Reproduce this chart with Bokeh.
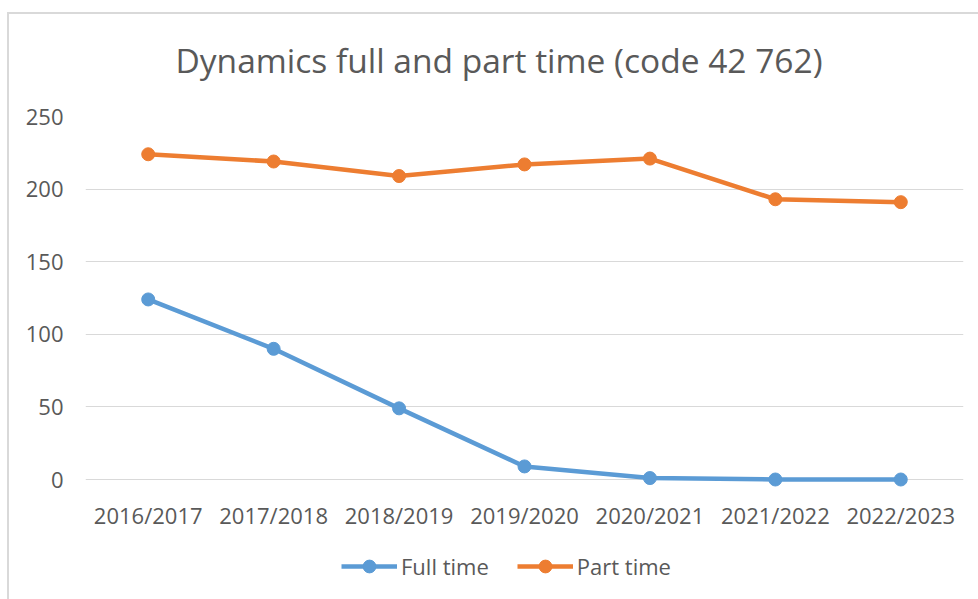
from bokeh.plotting import figure
from bokeh.models import FactorRange, Range1d, FixedTicker, Legend, LegendItem, Title
from bokeh.core.properties import value
from bokeh.embed import file_html
from bokeh.resources import INLINE

categories = ["2016/2017", "2017/2018", "2018/2019", "2019/2020", "2020/2021", "2021/2022", "2022/2023"]
full_time = [124, 90, 49, 9, 1, 0, 0]
part_time = [224, 219, 209, 217, 221, 193, 191]
y_ticks = [0, 50, 100, 150, 200, 250]

FONT = "Open Sans"
GRAY = "#595959"
BLUE = "#5B9BD5"
ORANGE = "#ED7D31"

# plot area: values 0..250 over 363 px; the frame extends 120 px further down
# so that category labels and legend can live inside it
PLOT_H = 363
EXTRA_H = 120
y_max = y_ticks[-1]
y_min = -y_max * EXTRA_H / PLOT_H
label_y = -y_max * 35 / PLOT_H

p = figure(frame_width=878, frame_height=PLOT_H + EXTRA_H,
           x_range=FactorRange(*categories, range_padding=0),
           y_range=Range1d(y_min, y_max), output_backend="svg", toolbar_location=None,
           min_border_left=85, min_border_right=15, min_border_top=116, min_border_bottom=0)
p.outline_line_color = None
p.background_fill_color = "white"
p.border_fill_color = None
# light chart-area border (left and top edges), drawn as the element background
p.styles = {
    "background": "linear-gradient(#D9D9D9, #D9D9D9) 7px 12px / 971px 2px no-repeat, "
                  "linear-gradient(#D9D9D9, #D9D9D9) 7px 12px / 2px 587px no-repeat, white"
}

t = Title(text="Dynamics full and part time (code 42 762)", align="left", offset=90,
          text_font=FONT, text_font_size="33.5px", text_font_style="normal",
          text_color=GRAY, standoff=68)
p.add_layout(t, "above")

r1l = p.line(categories, full_time, line_color=BLUE, line_width=4.5)
r1c = p.scatter(categories, full_time, size=13, fill_color=BLUE, line_color=BLUE)
r2l = p.line(categories, part_time, line_color=ORANGE, line_width=4.5)
r2c = p.scatter(categories, part_time, size=13, fill_color=ORANGE, line_color=ORANGE)

# category labels (x axis hidden; labels placed below the zero line)
p.text(x=categories, y=[label_y] * len(categories), text=categories,
       text_font=value(FONT), text_font_size="22px", text_color=GRAY,
       text_align="center", text_baseline="middle")
p.xaxis.visible = False

p.yaxis.ticker = FixedTicker(ticks=y_ticks)
ax = p.yaxis[0]
ax.axis_line_color = None
ax.major_tick_line_color = None
ax.minor_tick_line_color = None
ax.major_label_text_font = FONT
ax.major_label_text_font_size = "22px"
ax.major_label_text_color = GRAY
p.yaxis.major_label_standoff = 16

p.xgrid.grid_line_color = None
p.ygrid.grid_line_color = "#D9D9D9"
p.ygrid.grid_line_width = 1.2
p.ygrid.ticker = FixedTicker(ticks=y_ticks)

legend = Legend(items=[LegendItem(label="Full time", renderers=[r1l, r1c]),
                       LegendItem(label="Part time", renderers=[r2l, r2c])],
                orientation="horizontal", location=(256, 17),
                label_text_font=FONT, label_text_font_size="22px", label_text_color=GRAY,
                glyph_width=56, glyph_height=32, label_standoff=4, spacing=28,
                border_line_color=None, background_fill_alpha=0, margin=0, padding=0)
p.add_layout(legend, "center")

open("out.html", "w").write(file_html(p, INLINE))
